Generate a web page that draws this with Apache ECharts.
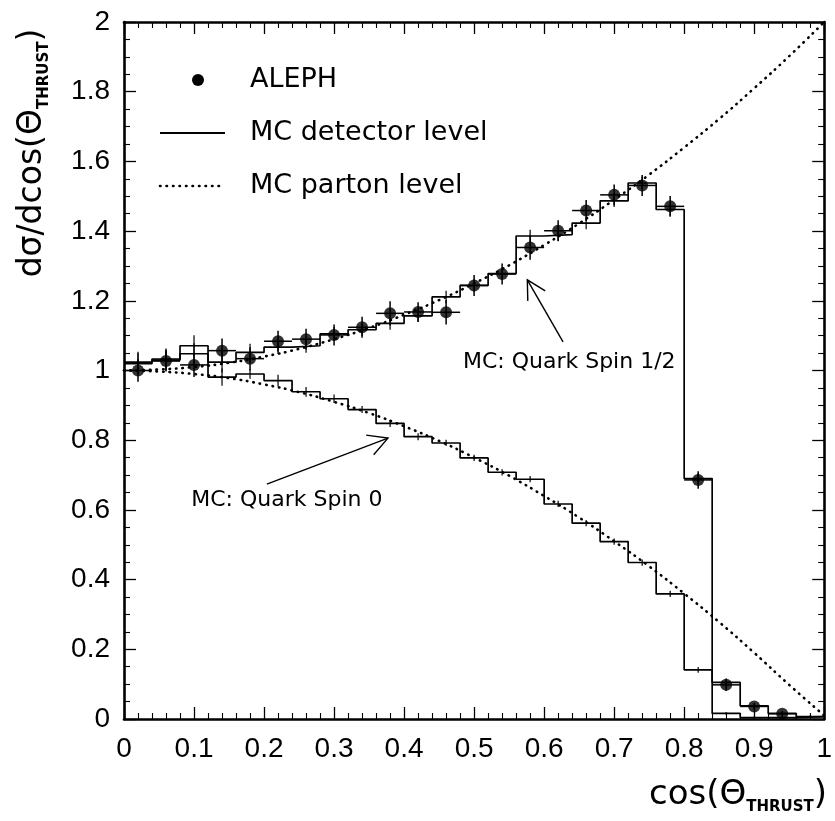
<!DOCTYPE html>
<html><head><meta charset="utf-8">
<script src="https://cdn.jsdelivr.net/npm/echarts@6/dist/echarts.min.js"></script>
<style>html,body{margin:0;padding:0;background:#fff}#c{width:835px;height:821px}</style>
</head><body><div id="c"></div>
<script>
// ---- data ----
const binCenters = [0.02,0.06,0.10,0.14,0.18,0.22,0.26,0.30,0.34,0.38,0.42,0.46,0.50,0.54,0.58,0.62,0.66,0.70,0.74,0.78,0.82,0.86,0.90,0.94,0.98];
const binHalfWidth = 0.02;
const alephX   = [0.02,0.06,0.10,0.14,0.18,0.22,0.26,0.30,0.34,0.38,0.42,0.46,0.50,0.54,0.58,0.62,0.66,0.70,0.74,0.78,0.82,0.86,0.90,0.94];
const alephY   = [1.000,1.027,1.016,1.057,1.034,1.084,1.090,1.102,1.124,1.164,1.168,1.167,1.244,1.277,1.353,1.401,1.459,1.504,1.531,1.471,0.686,0.098,0.036,0.015];
const alephErr = [0.032,0.030,0.035,0.035,0.033,0.030,0.030,0.030,0.030,0.035,0.028,0.035,0.030,0.030,0.035,0.030,0.030,0.030,0.030,0.030,0.025,0.018,0.010,0.008];
const spinHalfDet = [1.024,1.033,1.071,1.024,1.052,1.067,1.071,1.105,1.117,1.135,1.157,1.211,1.244,1.278,1.386,1.390,1.423,1.487,1.538,1.462,0.690,0.105,0.038,0.016,0.007];
const spinZeroDet = [1.020,1.030,1.048,0.981,0.990,0.971,0.939,0.919,0.888,0.848,0.810,0.792,0.749,0.708,0.688,0.617,0.562,0.509,0.449,0.359,0.141,0.016,0.004,0.004,0.007];
const spinHalfMcErr = [0.030,0.030,0.030,0.030,0.025,0.020,0.020,0.020,0.018,0.018,0.018,0.018,0.018,0.018,0.018,0.018,0.018,0.018,0.018,0.018,0.015,0.008,0.005,0.004,0.003];
const spinZeroMcErr = [0.030,0.030,0.030,0.025,0.014,0.017,0.014,0.012,0.010,0.010,0.010,0.009,0.009,0.009,0.009,0.009,0.009,0.009,0.009,0.009,0.008,0.004,0.003,0.003,0.003];
const partonX    = [0,0.05,0.10,0.15,0.20,0.25,0.30,0.35,0.40,0.45,0.50,0.55,0.60,0.65,0.70,0.75,0.80,0.85,0.90,0.95,1.00];
const partonHalf = [1.000,1.003,1.010,1.022,1.040,1.062,1.090,1.122,1.160,1.202,1.250,1.302,1.360,1.422,1.490,1.562,1.640,1.722,1.810,1.902,2.000];
const partonZero = [1.000,0.997,0.990,0.978,0.960,0.938,0.910,0.878,0.840,0.798,0.750,0.698,0.640,0.578,0.510,0.438,0.360,0.278,0.190,0.098,0.010];
const legendLabels = ['ALEPH','MC detector level','MC parton level'];
const annotSpinHalf = 'MC: Quark Spin 1/2';
const annotSpinZero = 'MC: Quark Spin 0';

// ---- build ----
const chart = echarts.init(document.getElementById('c'), null, {renderer:'canvas'});
const fmt = v => { const r = Math.round(v); if (Math.abs(v-r) < 1e-9) return String(r); return v.toFixed(1); };
const histData = vals => binCenters.map((c,i)=>[c-binHalfWidth, vals[i]]).concat([[binCenters[binCenters.length-1]+binHalfWidth, vals[vals.length-1]]]);
const blk = '#000';
const tickCommon = (len, mlen, split) => ({
  axisTick:{show:true, inside:true, length:len, lineStyle:{color:blk, width:1.3}},
  minorTick:{show:true, splitNumber:split, length:mlen, lineStyle:{color:blk, width:1.1}},
  splitLine:{show:false}, minorSplitLine:{show:false},
  axisLine:{show:true, onZero:false, lineStyle:{color:blk, width:2.6}}
});
const labelFont = {fontSize:28, color:blk, fontFamily:'Liberation Sans'};
const dotted = {color:blk, width:2.6, type:[0.5,6], cap:'round'};

const option = {
  animation:false,
  backgroundColor:'#fff',
  grid:{left:124, right:7, top:22, bottom:102, containLabel:false},
  xAxis:[
    Object.assign({type:'value', min:0, max:1, interval:0.1, position:'bottom',
      axisLabel:Object.assign({margin:16, formatter:fmt}, labelFont)}, tickCommon(12,6,5)),
    Object.assign({type:'value', min:0, max:1, interval:0.1, position:'top',
      axisLabel:{show:false}}, tickCommon(12,6,5))
  ],
  yAxis:[
    Object.assign({type:'value', min:0, max:2, interval:0.2, position:'left',
      axisLabel:Object.assign({margin:14, formatter:fmt}, labelFont)}, tickCommon(12,6,4)),
    Object.assign({type:'value', min:0, max:2, interval:0.2, position:'right',
      axisLabel:{show:false}}, tickCommon(12,6,4))
  ],
  series:[
    {name:'MC parton level (spin 1/2)', type:'line', smooth:true, showSymbol:false, symbol:'none',
     data:partonX.map((x,i)=>[x,partonHalf[i]]), lineStyle:dotted, z:2},
    {name:'MC parton level (spin 0)', type:'line', smooth:true, showSymbol:false, symbol:'none',
     data:partonX.map((x,i)=>[x,partonZero[i]]), lineStyle:dotted, z:2},
    {name:'MC detector level (spin 1/2)', type:'line', step:'end', showSymbol:false, symbol:'none',
     data:histData(spinHalfDet), lineStyle:{color:blk, width:1.7}, z:3},
    {name:'MC detector level (spin 0)', type:'line', step:'end', showSymbol:false, symbol:'none',
     data:histData(spinZeroDet), lineStyle:{color:blk, width:1.7}, z:3},
    {name:'MC errors', type:'custom', z:4,
     data:binCenters.map((c,i)=>[c,spinHalfDet[i],spinHalfMcErr[i]]).concat(binCenters.map((c,i)=>[c,spinZeroDet[i],spinZeroMcErr[i]])),
     encode:{x:0,y:1},
     renderItem:(params, api)=>{
       const x=api.value(0), y=api.value(1), e=api.value(2);
       const a=api.coord([x,y-e]), b=api.coord([x,y+e]);
       return {type:'line', shape:{x1:a[0],y1:a[1],x2:b[0],y2:b[1]}, style:{stroke:blk, lineWidth:1.2}};
     }},
    {name:'ALEPH errors', type:'custom', z:5,
     data:alephX.map((x,i)=>[x,alephY[i],alephErr[i]]),
     encode:{x:0,y:1},
     renderItem:(params, api)=>{
       const x=api.value(0), y=api.value(1), e=api.value(2);
       const a=api.coord([x,y-e]), b=api.coord([x,y+e]);
       const l=api.coord([x-binHalfWidth,y]), r=api.coord([x+binHalfWidth,y]);
       return {type:'group', children:[
         {type:'line', shape:{x1:a[0],y1:a[1],x2:b[0],y2:b[1]}, style:{stroke:blk, lineWidth:1.5}},
         {type:'line', shape:{x1:l[0],y1:l[1],x2:r[0],y2:r[1]}, style:{stroke:blk, lineWidth:1.5}}
       ]};
     }},
    {name:'ALEPH', type:'scatter', symbol:'circle', symbolSize:12, z:6,
     data:alephX.map((x,i)=>[x,alephY[i]]), itemStyle:{color:blk}}
  ]
};
chart.setOption(option);

const P = (x,y)=>chart.convertToPixel({xAxisIndex:0,yAxisIndex:0},[x,y]);
function arrow(tail, tip, len, spread){
  const a=P(tail[0],tail[1]), t=P(tip[0],tip[1]);
  const ang=Math.atan2(a[1]-t[1], a[0]-t[0]);
  const h1=[t[0]+len*Math.cos(ang+spread), t[1]+len*Math.sin(ang+spread)];
  const h2=[t[0]+len*Math.cos(ang-spread), t[1]+len*Math.sin(ang-spread)];
  const st={stroke:blk, lineWidth:1.4};
  return [
    {type:'line', shape:{x1:a[0],y1:a[1],x2:t[0],y2:t[1]}, style:st, z:10},
    {type:'polyline', shape:{points:[h1,t,h2]}, style:Object.assign({fill:null},st), z:10}
  ];
}
const txtFont = 'DejaVu Sans';
const s1 = P(0.484, 1.024), s0 = P(0.096, 0.628);
const graphics = [
  // legend
  {type:'circle', shape:{cx:198, cy:80, r:6}, style:{fill:blk}, z:10},
  {type:'text', x:250, y:80, style:{text:legendLabels[0], font:'27px '+txtFont, fill:blk, verticalAlign:'middle'}, z:10},
  {type:'line', shape:{x1:160,y1:133,x2:225,y2:133}, style:{stroke:blk, lineWidth:1.8}, z:10},
  {type:'text', x:250, y:133, style:{text:legendLabels[1], font:'27px '+txtFont, fill:blk, verticalAlign:'middle'}, z:10},
  {type:'line', shape:{x1:160,y1:186,x2:225,y2:186}, style:{stroke:blk, lineWidth:2.6, lineDash:[0.5,6], lineCap:'round'}, z:10},
  {type:'text', x:250, y:186, style:{text:legendLabels[2], font:'27px '+txtFont, fill:blk, verticalAlign:'middle'}, z:10},
  // annotations
  {type:'text', x:s1[0], y:s1[1], style:{text:annotSpinHalf, font:'22px '+txtFont, fill:blk, verticalAlign:'middle'}, z:10},
  {type:'text', x:s0[0], y:s0[1], style:{text:annotSpinZero, font:'22px '+txtFont, fill:blk, verticalAlign:'middle'}, z:10},
  ...arrow([0.627,1.082],[0.576,1.26],21,0.5),
  ...arrow([0.204,0.674],[0.377,0.806],22,0.5),
  // axis titles
  {type:'text', x:32, y:153, rotation:Math.PI/2, z:10,
   style:{text:'{m|dσ/dcos(Θ}{s|THRUST}{m|)}', align:'center', verticalAlign:'middle',
     rich:{m:{font:'33px '+txtFont, fill:blk, lineHeight:40}, s:{font:'bold 15px '+txtFont, fill:blk, verticalAlign:'bottom', lineHeight:14}}}},
  {type:'text', x:827, y:795, z:10,
   style:{text:'{m|cos(Θ}{s|THRUST}{m|)}', align:'right', verticalAlign:'middle',
     rich:{m:{font:'34px '+txtFont, fill:blk, lineHeight:40}, s:{font:'bold 15px '+txtFont, fill:blk, verticalAlign:'bottom', lineHeight:14}}}}
];
chart.setOption({graphic:graphics});
</script></body></html>
